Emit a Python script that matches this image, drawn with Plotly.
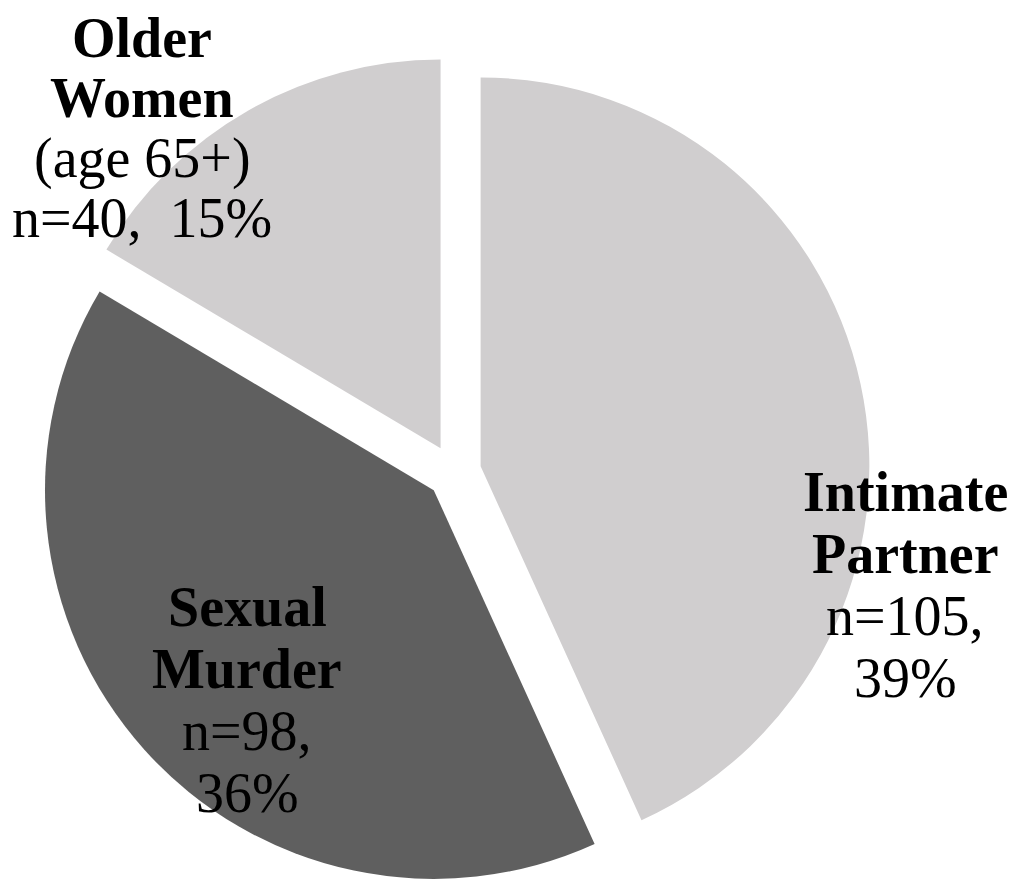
import plotly.graph_objects as go

# ---- data ----
categories = ["Intimate Partner", "Sexual Murder", "Older Women (age 65+)"]
counts = [105, 98, 40]
percent_labels = ["39%", "36%", "15%"]

# label lines (text only)
label_lines = {
    "Intimate Partner": [("Intimate", True), ("Partner", True), ("n=105,", False), ("39%", False)],
    "Sexual Murder": [("Sexual", True), ("Murder", True), ("n=98,", False), ("36%", False)],
    "Older Women (age 65+)": [("Older", True), ("Women", True), ("(age 65+)", False), ("n=40,  15%", False)],
}

# ---- styling / layout ----
# page body has an 8px default margin, so figure = window - 16
W, H = 1005, 880
slice_colors = ["#D0CECF", "#5F5F5F", "#D0CECF"]
FONT = "Liberation Serif, Times New Roman, serif"
FSIZE = 56
# label block positions: (center x px, first baseline y px, line step px) in figure pixels
label_pos = {
    "Intimate Partner": (897, 504, 62),
    "Sexual Murder": (239, 619, 62),
    "Older Women (age 65+)": (134, 50, 60),
}

fig = go.Figure(
    go.Pie(
        labels=categories,
        values=counts,
        sort=False,
        direction="clockwise",
        rotation=0,
        pull=[0.07, 0.07, 0.07],
        marker=dict(colors=slice_colors, line=dict(width=0)),
        textinfo="none",
        hoverinfo="label+value",
        showlegend=False,
        domain=dict(x=[0.0299, 0.8577], y=[0.0, 0.9455]),
    )
)

annotations = []
for cat in categories:
    cx, base, step = label_pos[cat]
    for i, (txt, bold) in enumerate(label_lines[cat]):
        baseline = base + i * step
        ymid = baseline - 19.9
        annotations.append(
            dict(
                text=f"<b>{txt}</b>" if bold else txt,
                x=cx / W,
                y=1 - ymid / H,
                xref="paper",
                yref="paper",
                xanchor="center",
                yanchor="middle",
                showarrow=False,
                font=dict(family=FONT, size=FSIZE, color="#000000"),
            )
        )

fig.update_layout(
    width=W,
    height=H,
    margin=dict(l=0, r=0, t=0, b=0),
    paper_bgcolor="#FFFFFF",
    plot_bgcolor="#FFFFFF",
    annotations=annotations,
)

fig.write_html("out.html")
